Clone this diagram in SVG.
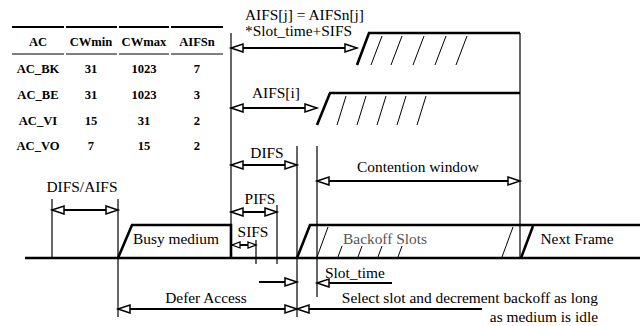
<svg xmlns="http://www.w3.org/2000/svg" width="644" height="326" viewBox="0 0 644 326">
<style>
text{font-family:'Liberation Serif','Times New Roman','DejaVu Serif',serif;font-size:15.4px;fill:#000}
.tb{font-weight:bold;font-size:12.6px;text-anchor:middle}
.c{text-anchor:middle}
.thick{stroke:#000;stroke-width:2.6;fill:none}
.vl{stroke:#000;stroke-width:1.2;fill:none}
.hatch{stroke:#000;stroke-width:1;fill:none}
.arr{stroke:#000;stroke-width:2;fill:none;marker-start:url(#ah);marker-end:url(#ah)}
.arrE{stroke:#000;stroke-width:2;fill:none;marker-end:url(#ah)}
.arrS{stroke:#000;stroke-width:2;fill:none;marker-start:url(#ah)}
.tl{stroke:#000;stroke-width:2.2}
.tl2{stroke:#000;stroke-width:1.2}
</style>
<defs>
<marker id="ah" markerUnits="userSpaceOnUse" markerWidth="16" markerHeight="12" refX="13" refY="5" orient="auto-start-reverse" viewBox="0 0 16 12" overflow="visible">
<path d="M1,1 L13,5 L1,9 Z" fill="#fff" stroke="#000" stroke-width="1.5"/>
</marker>
<marker id="ahs" markerUnits="userSpaceOnUse" markerWidth="12" markerHeight="10" refX="9" refY="4" orient="auto-start-reverse" viewBox="0 0 12 10" overflow="visible">
<path d="M1,1 L9,4 L1,7 Z" fill="#fff" stroke="#000" stroke-width="1.3"/>
</marker>
</defs>
<rect width="644" height="326" fill="#fff"/>

<g id="table">
<line class="tl" x1="12" y1="27" x2="64" y2="27"/>
<line class="tl" x1="66" y1="27" x2="117" y2="27"/>
<line class="tl" x1="119" y1="27" x2="169" y2="27"/>
<line class="tl" x1="171" y1="27" x2="223" y2="27"/>
<line class="tl2" x1="12" y1="54" x2="64" y2="54"/>
<line class="tl2" x1="66" y1="54" x2="117" y2="54"/>
<line class="tl2" x1="119" y1="54" x2="169" y2="54"/>
<line class="tl2" x1="171" y1="54" x2="223" y2="54"/>
<text class="tb" x="38" y="46">AC</text>
<text class="tb" x="91" y="46">CWmin</text>
<text class="tb" x="144" y="46">CWmax</text>
<text class="tb" x="197" y="46">AIFSn</text>
<text class="tb" x="38" y="73">AC_BK</text>
<text class="tb" x="91" y="73">31</text>
<text class="tb" x="144" y="73">1023</text>
<text class="tb" x="197" y="73">7</text>
<text class="tb" x="38" y="99">AC_BE</text>
<text class="tb" x="91" y="99">31</text>
<text class="tb" x="144" y="99">1023</text>
<text class="tb" x="197" y="99">3</text>
<text class="tb" x="38" y="125">AC_VI</text>
<text class="tb" x="91" y="125">15</text>
<text class="tb" x="144" y="125">31</text>
<text class="tb" x="197" y="125">2</text>
<text class="tb" x="38" y="150">AC_VO</text>
<text class="tb" x="91" y="150">7</text>
<text class="tb" x="144" y="150">15</text>
<text class="tb" x="197" y="150">2</text>
</g>

<g id="medium">
<line class="thick" x1="25" y1="258" x2="640" y2="258"/>
</g>

<g id="busy">
<path class="thick" d="M118,258 L132,225 L231,225 L231,258"/>
<text class="c" x="176" y="244">Busy medium</text>
</g>

<g id="aifs-j">
<path class="thick" d="M357,65 L369,33 L520,33"/>
<line class="hatch" x1="371" y1="65" x2="382" y2="36"/>
<line class="hatch" x1="391" y1="65" x2="402" y2="36"/>
<line class="hatch" x1="413" y1="65" x2="424" y2="36"/>
<line class="hatch" x1="435" y1="65" x2="446" y2="36"/>
<line class="hatch" x1="456" y1="65" x2="467" y2="36"/>
<text x="245" y="20">AIFS[j] = AIFSn[j]</text>
<text x="245" y="36">*Slot_time+SIFS</text>
</g>

<g id="aifs-i">
<path class="thick" d="M317,125 L330,93 L520,93"/>
<line class="hatch" x1="337" y1="125" x2="346" y2="96"/>
<line class="hatch" x1="357" y1="125" x2="366" y2="96"/>
<line class="hatch" x1="377" y1="125" x2="386" y2="96"/>
<line class="hatch" x1="397" y1="125" x2="406" y2="96"/>
<line class="hatch" x1="417" y1="125" x2="426" y2="96"/>
<text x="252" y="98">AIFS[i]</text>
</g>

<g id="backoff">
<path class="thick" d="M297,258 L310,225 L640,225"/>
<line class="hatch" x1="317" y1="257" x2="328" y2="227"/>
<line class="hatch" x1="338" y1="257" x2="342" y2="246"/>
<line class="hatch" x1="358" y1="257" x2="362" y2="246"/>
<line class="hatch" x1="378" y1="257" x2="382" y2="246"/>
<line class="hatch" x1="398" y1="257" x2="402" y2="246"/>
<line class="hatch" x1="502" y1="257" x2="513" y2="227"/>
<text class="c" x="385" y="244" style="fill:#555">Backoff Slots</text>
</g>

<g id="next-frame">
<line class="thick" x1="521" y1="258" x2="533" y2="226"/>
<text class="c" x="577" y="244">Next Frame</text>
</g>

<g id="connectors">
<line class="vl" x1="52" y1="199" x2="52" y2="258"/>
<line class="vl" x1="118" y1="199" x2="118" y2="317"/>
<line class="vl" x1="231" y1="33" x2="231" y2="226"/>
<line class="vl" x1="256" y1="240" x2="256" y2="264"/>
<line class="vl" x1="277" y1="205" x2="277" y2="264"/>
<line class="vl" x1="297" y1="146" x2="297" y2="317"/>
<line class="vl" x1="317" y1="146" x2="317" y2="297"/>
<line class="vl" x1="520" y1="33" x2="520" y2="258"/>

<line class="arr" x1="231" y1="48" x2="357" y2="48"/>
<line class="arr" x1="231" y1="108" x2="317" y2="108"/>
<line class="arr" x1="231" y1="165" x2="297" y2="165"/>
<line class="arr" x1="317" y1="181" x2="520" y2="181"/>
<line class="arr" x1="231" y1="212" x2="277" y2="212"/>
<line stroke="#000" stroke-width="2" marker-start="url(#ahs)" marker-end="url(#ahs)" x1="232" y1="245" x2="256" y2="245"/>
<line class="arr" x1="52" y1="210" x2="118" y2="210"/>
<line class="arrE" x1="259" y1="282" x2="297" y2="282"/>
<line class="arrE" x1="392" y1="283" x2="317" y2="283"/>
<line class="arr" x1="118" y1="309" x2="297" y2="309"/>
<line class="arrS" x1="297" y1="309" x2="482" y2="309"/>
</g>

<g id="labels">
<text class="c" x="267" y="158">DIFS</text>
<text x="357" y="172">Contention window</text>
<text class="c" x="260" y="204">PIFS</text>
<text class="c" x="253" y="237">SIFS</text>
<text class="c" x="82" y="192">DIFS/AIFS</text>
<text x="325" y="278">Slot_time</text>
<text class="c" x="206" y="303">Defer Access</text>
<text x="598" y="303" text-anchor="end">Select slot and decrement backoff as long</text>
<text x="598" y="322" text-anchor="end">as medium is idle</text>
</g>
</svg>
